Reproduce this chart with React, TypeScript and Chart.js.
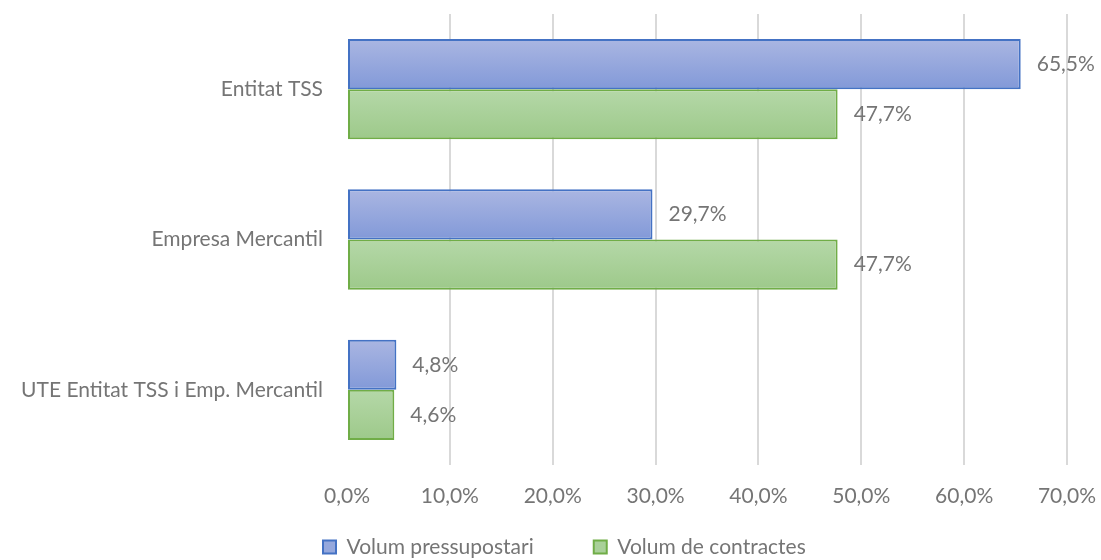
import React, { useEffect, useRef } from "react";
import { Chart, registerables } from "chart.js";

Chart.register(...registerables);

const categories = ["Entitat TSS", "Empresa Mercantil", "UTE Entitat TSS i Emp. Mercantil"];
const seriesNames = ["Volum pressupostari", "Volum de contractes"];
const pressupostari = [65.5, 29.7, 4.8];
const contractes = [47.7, 47.7, 4.6];
const xTicks = [0, 10, 20, 30, 40, 50, 60, 70];

const FONT = "Lato";
const FS = 21;
const TEXT = "#757575";
const fmt = (v: number) => v.toFixed(1).replace(".", ",") + "%";

const palettes = [
  { top: "#aab6e2", bottom: "#8299d8", border: "#4472c4", legend: "#95a8dd" },
  { top: "#b5d8a8", bottom: "#9dc98a", border: "#70ad47", legend: "#a9d099" },
];

const CAT_PCT = 0.667;
const LEGEND_PAD = 60;
const LEGEND_LEFT = 323;
const LEGEND_TEXT_Y = 547;
const LEGEND_H = 41;

function makeBg(dsIndex: number) {
  return (ctx: any) => {
    const chart = ctx.chart;
    const y = chart.scales?.y;
    if (!y || ctx.dataIndex === undefined) return palettes[dsIndex].legend;
    const c = y.getPixelForValue(ctx.dataIndex);
    const band = Math.abs(y.getPixelForValue(1) - y.getPixelForValue(0));
    const h = (band * CAT_PCT) / 2;
    const top = dsIndex === 0 ? c - h : c;
    if (!isFinite(top) || !isFinite(h) || h <= 0) return palettes[dsIndex].legend;
    const g = chart.ctx.createLinearGradient(0, top, 0, top + h);
    g.addColorStop(0, palettes[dsIndex].top);
    g.addColorStop(1, palettes[dsIndex].bottom);
    return g;
  };
}

const labelPlugin = {
  id: "valueLabels",
  afterLayout(chart: any) {
    const lg = chart.legend;
    if (lg) {
      const w = lg.right - lg.left;
      lg.left = LEGEND_LEFT - LEGEND_PAD;
      lg.right = Math.min(lg.left + w, chart.width);
      lg.top = LEGEND_TEXT_Y - LEGEND_PAD - FS / 2;
      lg.bottom = chart.height;
    }
  },
  afterDatasetsDraw(chart: any) {
    const ctx = chart.ctx;
    ctx.save();
    ctx.font = `${FS}px ${FONT}`;
    ctx.fillStyle = TEXT;
    ctx.textBaseline = "middle";
    ctx.textAlign = "left";
    chart.data.datasets.forEach((ds: any, i: number) => {
      const meta = chart.getDatasetMeta(i);
      meta.data.forEach((el: any, j: number) => {
        ctx.fillText(fmt(ds.data[j]), el.x + 16, el.y);
      });
    });
    ctx.restore();
  },
};

export default function App() {
  const ref = useRef<HTMLCanvasElement>(null);
  useEffect(() => {
    if (!ref.current) return;
    const chart = new Chart(ref.current, {
      type: "bar",
      data: {
        labels: categories,
        datasets: [
          {
            label: seriesNames[0],
            data: pressupostari,
            backgroundColor: makeBg(0),
            borderColor: palettes[0].border,
            borderWidth: 2,
            borderSkipped: false,
          },
          {
            label: seriesNames[1],
            data: contractes,
            backgroundColor: makeBg(1),
            borderColor: palettes[1].border,
            borderWidth: 2,
            borderSkipped: false,
          },
        ],
      },
      options: {
        indexAxis: "y",
        animation: false,
        responsive: false,
        datasets: { bar: { categoryPercentage: CAT_PCT, barPercentage: 1 } },
        layout: { padding: { top: 14, right: 34, left: 0, bottom: 0 } },
        plugins: {
          tooltip: { enabled: false },
          legend: {
            position: "bottom",
            align: "start",
            maxHeight: LEGEND_H,
            labels: {
              font: { family: FONT, size: FS },
              color: TEXT,
              boxWidth: 13,
              boxHeight: 13,
              padding: LEGEND_PAD,
              generateLabels: (chart: any) =>
                chart.data.datasets.map((ds: any, i: number) => ({
                  text: ds.label,
                  fillStyle: palettes[i].legend,
                  strokeStyle: palettes[i].border,
                  lineWidth: 2,
                  fontColor: TEXT,
                  datasetIndex: i,
                  hidden: false,
                })),
            },
          },
        },
        scales: {
          x: {
            min: 0,
            max: 70,
            afterBuildTicks: (scale: any) => {
              scale.ticks = xTicks.map((v) => ({ value: v }));
            },
            afterFit: (scale: any) => {
              scale.height = 560 - LEGEND_H - 465;
              scale.paddingLeft = 0;
              scale.paddingRight = 0;
            },
            ticks: {
              font: { family: FONT, size: FS },
              color: TEXT,
              padding: 19,
              maxRotation: 0,
              callback: (v: any) => fmt(Number(v)),
            },
            grid: {
              drawTicks: false,
              color: (c: any) => (c.tick && c.tick.value === 0 ? "rgba(0,0,0,0)" : "#d9d9d9"),
              lineWidth: 2,
            },
            border: { display: false },
          },
          y: {
            afterFit: (scale: any) => {
              scale.width = 347;
              scale.paddingTop = 0;
              scale.paddingBottom = 0;
            },
            ticks: {
              font: { family: FONT, size: FS },
              color: TEXT,
              padding: 24,
            },
            grid: { display: false, drawTicks: false },
            border: { display: false },
          },
        },
      },
      plugins: [labelPlugin],
    });
    return () => chart.destroy();
  }, []);
  return (
    <div style={{ position: "absolute", left: 0, top: 0, width: 1101, height: 560, background: "#fff" }}>
      <canvas ref={ref} width={1101} height={560} />
    </div>
  );
}
